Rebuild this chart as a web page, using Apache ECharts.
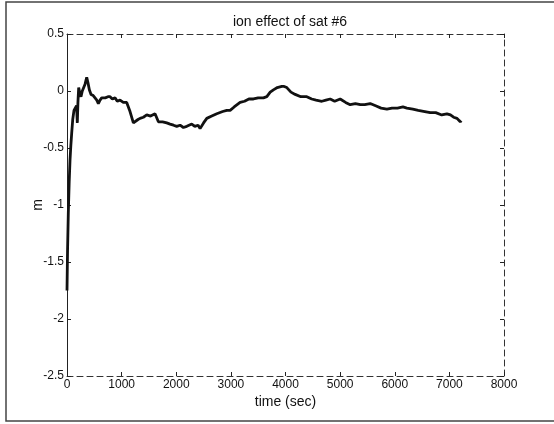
<!DOCTYPE html>
<html>
<head>
<meta charset="utf-8">
<script src="https://cdn.jsdelivr.net/npm/echarts@6/dist/echarts.min.js"></script>
<style>
  html, body { margin: 0; padding: 0; background: #fff; }
  #chart { width: 554px; height: 424px; }
</style>
</head>
<body>
<div id="chart"></div>
<script>
const times = [0, 10, 24, 40, 55, 70, 86, 105, 128, 150, 175, 189, 200, 214, 235, 256, 280, 299, 330, 361,
  385, 409, 440, 480, 513, 545, 574, 605, 635, 700, 750, 788, 830, 879, 920, 971, 1030, 1093, 1154, 1215,
  1246, 1300, 1337, 1398, 1460, 1530, 1612, 1673, 1750, 1826, 1887, 1950, 2009, 2070, 2131, 2193, 2284, 2340, 2400, 2436,
  2500, 2559, 2650, 2742, 2850, 2925, 2986, 3060, 3169, 3250, 3330, 3413, 3500, 3596, 3658, 3720, 3779, 3850, 3932, 3975,
  4024, 4100, 4177, 4280, 4390, 4480, 4560, 4665, 4740, 4818, 4900, 5001, 5100, 5184, 5280, 5370, 5450, 5550, 5650, 5750,
  5856, 5950, 6050, 6150, 6222, 6330, 6430, 6550, 6650, 6750, 6860, 6955, 7020, 7077, 7140, 7199, 7220]
const values = [-1.75, -1.4, -1.07, -0.8, -0.61, -0.48, -0.37, -0.25, -0.17, -0.15, -0.13, -0.28, -0.1, 0.03, -0.02, -0.05, 0.0, 0.01, 0.06, 0.12,
  0.07, 0.01, -0.03, -0.04, -0.06, -0.08, -0.11, -0.08, -0.06, -0.06, -0.05, -0.05, -0.07, -0.06, -0.09, -0.08, -0.1, -0.1, -0.18, -0.28,
  -0.28, -0.25, -0.24, -0.23, -0.21, -0.22, -0.2, -0.27, -0.27, -0.28, -0.29, -0.3, -0.31, -0.3, -0.32, -0.31, -0.29, -0.31, -0.3, -0.33,
  -0.28, -0.24, -0.22, -0.2, -0.18, -0.17, -0.17, -0.14, -0.1, -0.09, -0.07, -0.07, -0.06, -0.06, -0.05, -0.01, 0.01, 0.03, 0.04, 0.04,
  0.03, -0.01, -0.03, -0.05, -0.05, -0.07, -0.08, -0.09, -0.08, -0.07, -0.09, -0.07, -0.1, -0.12, -0.11, -0.12, -0.12, -0.11, -0.13, -0.15,
  -0.16, -0.15, -0.15, -0.14, -0.15, -0.16, -0.17, -0.18, -0.19, -0.19, -0.21, -0.2, -0.21, -0.23, -0.24, -0.27, -0.26]

const font = 'Liberation Sans, Arial, sans-serif'
const tickStyle = { show: true, inside: true, length: 4, lineStyle: { color: '#222', width: 1 } }
const frameLine = { onZero: false, lineStyle: { color: '#333', width: 1, type: [6, 4] } }

const chart = echarts.init(document.getElementById('chart'))
chart.setOption({
  animation: false,
  backgroundColor: '#fff',
  title: {
    text: 'ion effect of sat #6',
    left: 285,
    top: 10,
    textAlign: 'center',
    textStyle: { fontFamily: font, fontSize: 14, fontWeight: 'normal', color: '#111' },
  },
  grid: { left: 67, right: 50, top: 34, bottom: 48 },
  graphic: [
    {
      type: 'polyline',
      shape: { points: [[554, 2], [6, 2], [6, 421], [554, 421]] },
      style: { stroke: '#444', lineWidth: 1.5, fill: null },
    },
  ],
  xAxis: [
    {
      type: 'value',
      min: 0,
      max: 8000,
      interval: 1000,
      position: 'bottom',
      name: 'time (sec)',
      nameLocation: 'middle',
      nameGap: 19,
      nameMoveOverlap: false,
      nameTextStyle: { fontFamily: font, fontSize: 14, color: '#111' },
      axisLine: frameLine,
      axisTick: tickStyle,
      axisLabel: { fontFamily: font, fontSize: 12, color: '#111', margin: 3, formatter: (v) => String(v) },
      splitLine: { show: false },
    },
    {
      type: 'value',
      min: 0,
      max: 8000,
      interval: 1000,
      position: 'top',
      axisLine: frameLine,
      axisTick: tickStyle,
      axisLabel: { show: false },
      splitLine: { show: false },
    },
  ],
  yAxis: [
    {
      type: 'value',
      min: -2.5,
      max: 0.5,
      interval: 0.5,
      position: 'left',
      name: 'm',
      nameLocation: 'middle',
      nameGap: 22,
      nameMoveOverlap: false,
      nameTextStyle: { fontFamily: font, fontSize: 14, color: '#111' },
      axisLine: { onZero: false, lineStyle: { color: '#222', width: 1 } },
      axisTick: tickStyle,
      axisLabel: { fontFamily: font, fontSize: 12, color: '#111', margin: 3 },
      splitLine: { show: false },
    },
    {
      type: 'value',
      min: -2.5,
      max: 0.5,
      interval: 0.5,
      position: 'right',
      axisLine: frameLine,
      axisTick: tickStyle,
      axisLabel: { show: false },
      splitLine: { show: false },
    },
  ],
  series: [
    {
      type: 'line',
      data: times.map((t, i) => [t, values[i]]),
      showSymbol: false,
      lineStyle: { color: '#111', width: 2.8 },
    },
  ],
})
</script>
</body>
</html>
